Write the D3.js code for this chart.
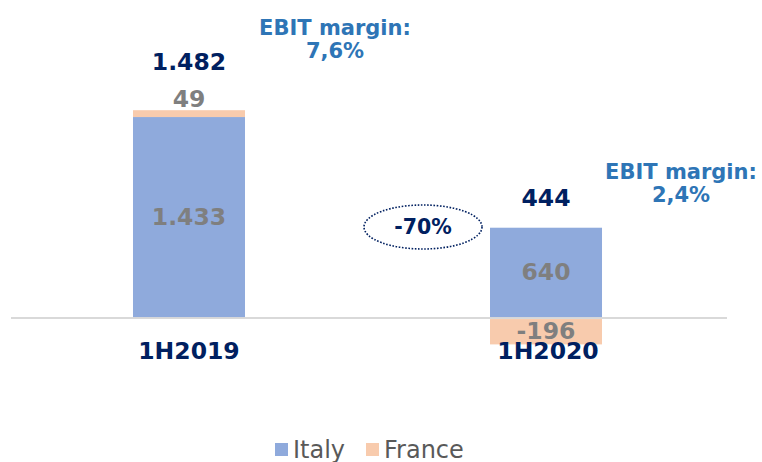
<!DOCTYPE html>
<html>
<head>
<meta charset="utf-8">
<script src="https://cdn.jsdelivr.net/npm/d3@7"></script>
<style>
  body { margin: 0; background: #fff; }
  text { font-family: "DejaVu Sans", Verdana, sans-serif; }
</style>
</head>
<body>
<div id="chart"></div>
<script>
// chart data
var periods = ["1H2019", "1H2020"];
var italy = [1433, 640];
var france = [49, -196];
var totals = ["1.482", "444"];
var italyLabels = ["1.433", "640"];
var franceLabels = ["49", "-196"];
var margins = ["7,6%", "2,4%"];
var series = ["Italy", "France"];

var width = 762, height = 462;
var colors = { Italy: "#8FAADC", France: "#F8CBAD" };

var svg = d3.select("#chart").append("svg")
  .attr("width", width)
  .attr("height", height);

var x = d3.scaleBand()
  .domain(periods)
  .range([11, 724])
  .paddingInner(0.6863)
  .paddingOuter(0.3417);

var y = d3.scaleLinear()
  .domain([-196, 1482])
  .range([344.4, 110.2]);

var rows = periods.map(function (p, i) {
  return { period: p, italy: italy[i], france: france[i], i: i };
});

// axis line
svg.append("line")
  .attr("x1", 11).attr("x2", 727)
  .attr("y1", y(0) + 1).attr("y2", y(0) + 1)
  .attr("stroke", "#D9D9D9")
  .attr("stroke-width", 2);

// Italy bars
svg.selectAll("rect.italy").data(rows).enter().append("rect")
  .attr("class", "italy")
  .attr("x", function (d) { return x(d.period); })
  .attr("width", x.bandwidth())
  .attr("y", function (d) { return y(d.italy); })
  .attr("height", function (d) { return y(0) - y(d.italy); })
  .attr("fill", colors.Italy);

// France bars (stacked on top if positive, below the axis if negative)
svg.selectAll("rect.france").data(rows).enter().append("rect")
  .attr("class", "france")
  .attr("x", function (d) { return x(d.period); })
  .attr("width", x.bandwidth())
  .attr("y", function (d) { return d.france >= 0 ? y(d.italy + d.france) : y(0) + 2; })
  .attr("height", function (d) {
    return d.france >= 0 ? y(d.italy) - y(d.italy + d.france) : y(d.france) - y(0) - 2;
  })
  .attr("fill", colors.France);

function cx(p) { return x(p) + x.bandwidth() / 2; }

var labelStyle = function (sel, color, size) {
  sel.attr("text-anchor", "middle")
    .attr("font-weight", "bold")
    .attr("font-size", size)
    .attr("fill", color);
};

// italy value labels
svg.selectAll("text.il").data(rows).enter().append("text")
  .attr("x", function (d) { return cx(d.period); })
  .attr("y", function (d) { return y(d.italy / 2) + 8; })
  .text(function (d) { return italyLabels[d.i]; })
  .call(labelStyle, "#7F7F7F", 23.5);

// france value labels
svg.selectAll("text.fl").data(rows).enter().append("text")
  .attr("x", function (d) { return cx(d.period); })
  .attr("y", function (d) {
    return d.france >= 0 ? y(d.italy + d.france) - 3 : y(0) + 22;
  })
  .text(function (d) { return franceLabels[d.i]; })
  .call(labelStyle, "#7F7F7F", 23.5);

// category labels
svg.selectAll("text.cat").data(rows).enter().append("text")
  .attr("x", function (d) { return cx(d.period) + (d.i ? 2 : 0); })
  .attr("y", 359)
  .text(function (d) { return d.period; })
  .call(labelStyle, "#002060", 23.5);

// totals
svg.append("text").attr("x", cx(periods[0])).attr("y", 70)
  .text(totals[0]).call(labelStyle, "#002060", 23.5);
svg.append("text").attr("x", cx(periods[1])).attr("y", 206)
  .text(totals[1]).call(labelStyle, "#002060", 23.5);

// EBIT margin notes
var notes = [
  { x: 335, y: 35, i: 0 },
  { x: 681, y: 179, i: 1 }
];
notes.forEach(function (n) {
  svg.append("text").attr("x", n.x).attr("y", n.y)
    .text("EBIT margin:").call(labelStyle, "#2E75B6", 21);
  svg.append("text").attr("x", n.x).attr("y", n.y + 23)
    .text(margins[n.i]).call(labelStyle, "#2E75B6", 21);
});

// change bubble
svg.append("ellipse")
  .attr("cx", 423).attr("cy", 227)
  .attr("rx", 59).attr("ry", 22)
  .attr("fill", "none")
  .attr("stroke", "#002060")
  .attr("stroke-width", 1.6)
  .attr("stroke-dasharray", "1.6 1.6");
svg.append("text").attr("x", 423).attr("y", 234)
  .text("-70%").call(labelStyle, "#002060", 20.5);

// legend
var legend = svg.append("g");
var lx = [275, 366];
series.forEach(function (s, i) {
  legend.append("rect")
    .attr("x", lx[i]).attr("y", 443)
    .attr("width", 13).attr("height", 13)
    .attr("fill", colors[s]);
  legend.append("text")
    .attr("x", lx[i] + 18).attr("y", 458)
    .attr("font-size", 24)
    .attr("fill", "#595959")
    .text(s);
});
</script>
</body>
</html>
